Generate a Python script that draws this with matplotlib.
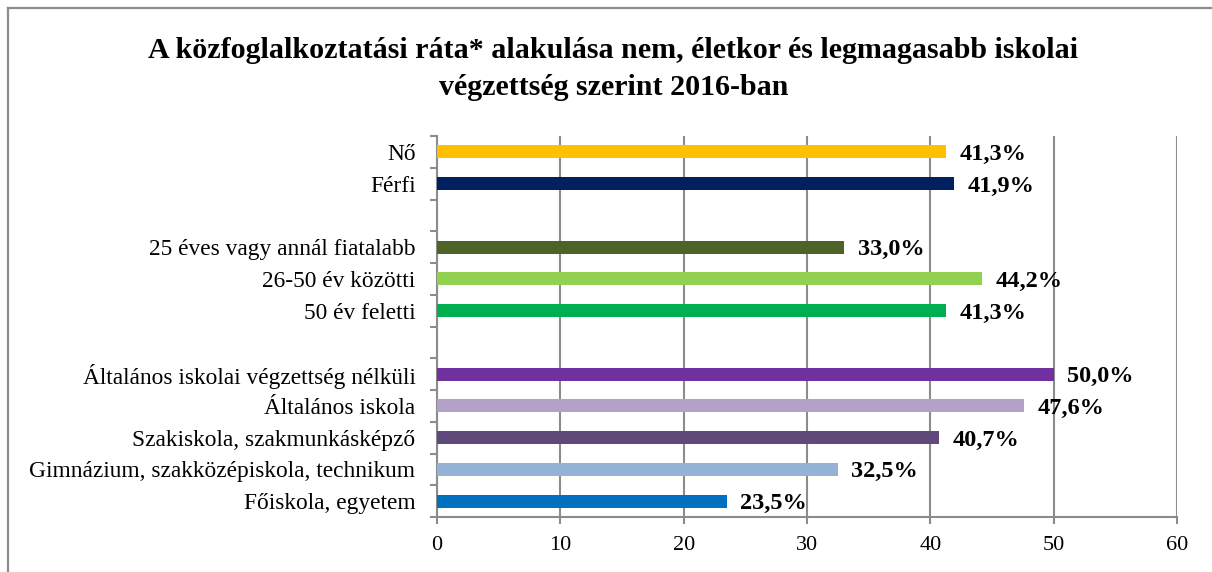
import matplotlib
matplotlib.use("Agg")
import matplotlib.pyplot as plt
from matplotlib.lines import Line2D
import numpy as np

categories = ["Nő", "Férfi", "",
              "25 éves vagy annál fiatalabb", "26-50 év közötti", "50 év feletti", "",
              "Általános iskolai végzettség nélküli", "Általános iskola",
              "Szakiskola, szakmunkásképző", "Gimnázium, szakközépiskola, technikum",
              "Főiskola, egyetem"]
values = [41.3, 41.9, None, 33.0, 44.2, 41.3, None, 50.0, 47.6, 40.7, 32.5, 23.5]
colors = ["#FFC000", "#002060", None, "#4F6228", "#92D050", "#00B050", None,
          "#7030A0", "#B3A2C7", "#604A7B", "#95B3D7", "#0070C0"]
x_ticks = [0, 10, 20, 30, 40, 50, 60]
title = "A közfoglalkoztatási ráta* alakulása nem, életkor és legmagasabb iskolai\nvégzettség szerint 2016-ban"

plt.rcParams['font.family'] = ['Liberation Serif', 'DejaVu Serif']

W, H = 1212, 572
fig = plt.figure(figsize=(W / 100, H / 100), dpi=100)
ax = fig.add_axes([437 / W, 1 - 517 / H, (1177 - 437) / W, (517 - 136) / H])

grey = "#8C8C8C"
ys = np.arange(len(categories))
for y, v, c in zip(ys, values, colors):
    if v is None:
        continue
    ax.barh(y, v, height=0.41, color=c, zorder=3)
    ax.text(v + 1.1, y + 0.08, f"{v:.1f}%".replace(".", ","), ha="left", va="center",
            fontsize=17.5, fontweight="bold", color="black", zorder=4)

ax.set_xlim(0, 60)
ax.set_ylim(len(categories) - 0.5, -0.5)
ax.set_xticks(x_ticks)
ax.set_xticklabels([str(t) for t in x_ticks])
ax.set_yticks(ys)
ax.set_yticklabels(categories)
ax.set_yticks(np.arange(-0.5, len(categories), 1.0), minor=True)
ax.tick_params(axis="y", which="major", length=0, pad=15.5, labelsize=16.8)
ax.tick_params(axis="y", which="minor", length=5, width=1.5, color=grey, direction="out")
ax.tick_params(axis="x", which="major", length=5, width=1.5, color=grey, pad=9, labelsize=16)
ax.xaxis.grid(True, color=grey, linewidth=1.5, zorder=0)
ax.set_axisbelow(True)
for s in ["top", "right"]:
    ax.spines[s].set_visible(False)
for s in ["left", "bottom"]:
    ax.spines[s].set_color(grey)
    ax.spines[s].set_linewidth(1.5)

fig.text(0.506, 1 - 69 / H, title, ha="center", va="center", fontsize=21.6,
         fontweight="bold", linespacing=1.45)

# outer frame (partially visible)
fig.add_artist(Line2D([7.5 / W, 7.5 / W], [0, 1 - 8 / H], transform=fig.transFigure,
                      color=grey, linewidth=1.6))
fig.add_artist(Line2D([7.5 / W, 1], [1 - 8 / H, 1 - 8 / H], transform=fig.transFigure,
                      color=grey, linewidth=1.6))

fig.savefig("out.png", dpi=100)
